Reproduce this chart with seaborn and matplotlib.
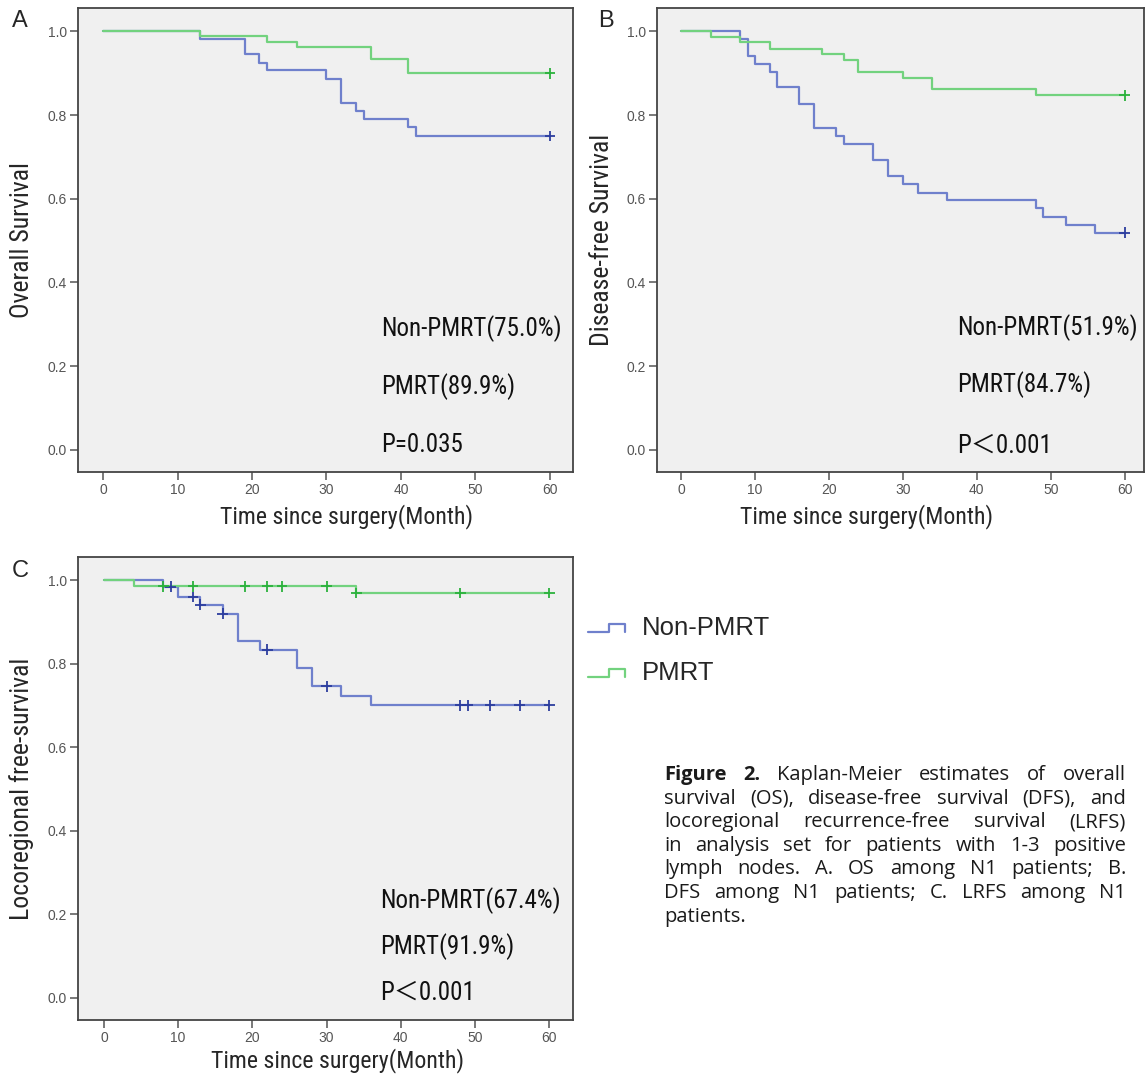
import numpy as np
import pandas as pd
import matplotlib
matplotlib.use("Agg")
import matplotlib.pyplot as plt
import seaborn as sns
from matplotlib import font_manager
from matplotlib.lines import Line2D
from matplotlib.legend_handler import HandlerBase

# Kaplan-Meier curves (event times in months, survival after each event)
groups = ["Non-PMRT", "PMRT"]

# A. Overall survival
os_non_t = [13, 19, 21, 22, 30, 32, 34, 35, 41, 42]
os_non_s = [0.982, 0.945, 0.925, 0.907, 0.887, 0.829, 0.809, 0.791, 0.772, 0.750]
os_non_cens = [60]
os_pm_t = [13, 22, 26, 36, 41]
os_pm_s = [0.988, 0.974, 0.962, 0.933, 0.900]
os_pm_cens = [60]

# B. Disease-free survival
dfs_non_t = [8, 9, 10, 12, 13, 16, 18, 21, 22, 26, 28, 30, 32, 36, 48, 49, 52, 56]
dfs_non_s = [0.982, 0.942, 0.923, 0.904, 0.866, 0.827, 0.770, 0.750, 0.730, 0.692,
             0.654, 0.635, 0.615, 0.596, 0.577, 0.557, 0.538, 0.519]
dfs_non_cens = [60]
dfs_pm_t = [4, 8, 12, 19, 22, 24, 30, 34, 48]
dfs_pm_s = [0.986, 0.974, 0.959, 0.945, 0.931, 0.903, 0.889, 0.862, 0.847]
dfs_pm_cens = [60]

# C. Locoregional recurrence-free survival
lrfs_non_t = [8, 10, 13, 16, 18, 21, 26, 28, 32, 36]
lrfs_non_s = [0.985, 0.960, 0.942, 0.920, 0.855, 0.834, 0.790, 0.746, 0.723, 0.701]
lrfs_non_cens = [9, 12, 13, 16, 22, 30, 48, 49, 52, 56, 60]
lrfs_pm_t = [4, 34]
lrfs_pm_s = [0.986, 0.970]
lrfs_pm_cens = [8, 12, 19, 22, 24, 30, 34, 48, 60]

follow_up = 60
x_ticks = [0, 10, 20, 30, 40, 50, 60]
y_ticks = [0.0, 0.2, 0.4, 0.6, 0.8, 1.0]

panel_letters = ["A", "B", "C"]
y_labels = ["Overall Survival", "Disease-free Survival", "Locoregional free-survival"]
x_label = "Time since surgery(Month)"
notes_A = ["Non-PMRT(75.0%)", "PMRT(89.9%)", "P=0.035"]
notes_B = ["Non-PMRT(51.9%)", "PMRT(84.7%)", "P\uff1c0.001"]
notes_C = ["Non-PMRT(67.4%)", "PMRT(91.9%)", "P\uff1c0.001"]

caption = [
    "Figure 2. Kaplan-Meier estimates of overall",
    "survival (OS), disease-free survival (DFS), and",
    "locoregional recurrence-free survival (LRFS)",
    "in analysis set for patients with 1-3 positive",
    "lymph nodes. A. OS among N1 patients; B.",
    "DFS among N1 patients; C. LRFS among N1",
    "patients.",
]

line_pal = {"Non-PMRT": "#6f80cc", "PMRT": "#72d27e"}
mark_pal = {"Non-PMRT": "#2c3d9e", "PMRT": "#2bb13c"}

sns.set_style("ticks")
names = {f.name for f in font_manager.fontManager.ttflist}
# SPSS output uses a condensed Arial-like face; fall back to a smaller regular one
if "Liberation Sans Narrow" in names:
    label_font, ylab_size, xlab_size, note_size = "Liberation Sans Narrow", 18.5, 17.2, 18
elif "Roboto Condensed" in names:
    label_font, ylab_size, xlab_size, note_size = "Roboto Condensed", 18.5, 17.2, 18
else:
    label_font, ylab_size, xlab_size, note_size = "Liberation Sans", 15.2, 14.5, 15
plt.rcParams["font.family"] = [label_font, "Liberation Sans", "DejaVu Sans"]

W, H = 1145, 1078
fig = plt.figure(figsize=(W / 100, H / 100), dpi=100)


def px_axes(l, t, r, b):
    return fig.add_axes([l / W, 1 - b / H, (r - l) / W, (b - t) / H])


def km_frame(t_non, s_non, t_pm, s_pm):
    rows = []
    for g, t, s in [("Non-PMRT", t_non, s_non), ("PMRT", t_pm, s_pm)]:
        tt = [0] + list(t) + [follow_up]
        ss = [1.0] + list(s) + [s[-1]]
        rows += [(g, a, b) for a, b in zip(tt, ss)]
    return pd.DataFrame(rows, columns=["group", "month", "surv"])


def cens_frame(t_non, s_non, c_non, t_pm, s_pm, c_pm):
    rows = []
    for g, t, s, c in [("Non-PMRT", t_non, s_non, c_non), ("PMRT", t_pm, s_pm, c_pm)]:
        lev = np.array([1.0] + list(s))
        idx = np.searchsorted(np.array(t), np.array(c), side="right")
        rows += [(g, a, b) for a, b in zip(c, lev[idx])]
    return pd.DataFrame(rows, columns=["group", "month", "surv"])


def draw_panel(ax, km, cens, xlim, ylabel, ylab_x, xlab_pos, notes, note_x, note_y):
    ax.set_facecolor("#f0f0f0")
    sns.lineplot(data=km, x="month", y="surv", hue="group", hue_order=groups,
                 palette=line_pal, drawstyle="steps-post", estimator=None, sort=False,
                 legend=False, linewidth=1.6, ax=ax)
    sns.scatterplot(data=cens, x="month", y="surv", hue="group", hue_order=groups,
                    palette=mark_pal, marker="+", s=60, linewidth=1.3, legend=False,
                    ax=ax, zorder=3)
    ax.set_xlim(*xlim)
    ax.set_ylim(-0.053, 1.056)
    ax.set_xticks(x_ticks)
    ax.set_yticks(y_ticks)
    ax.set_yticklabels([f"{v:.1f}" for v in y_ticks])
    ax.tick_params(direction="out", length=6, width=1.1, color="#555555",
                   labelsize=10, labelcolor="#555555", pad=2)
    for lab in ax.get_xticklabels() + ax.get_yticklabels():
        lab.set_family("Liberation Sans")
    for sp in ax.spines.values():
        sp.set_visible(True)
        sp.set_color("#444444")
        sp.set_linewidth(1.3)
    ax.set_ylabel(ylabel, fontsize=ylab_size)
    ax.yaxis.set_label_coords(ylab_x, 0.5)
    ax.set_xlabel(x_label, fontsize=xlab_size)
    ax.xaxis.set_label_coords(*xlab_pos)
    for txt, yv in zip(notes, note_y):
        ax.text(note_x, yv, txt, fontsize=note_size, va="center", ha="left",
                family=[label_font, "Noto Sans CJK SC"], color="#111111")


axA = px_axes(78, 8, 573, 472)
axB = px_axes(657, 8, 1144, 472)
axC = px_axes(78, 557, 573, 1020)

draw_panel(axA, km_frame(os_non_t, os_non_s, os_pm_t, os_pm_s),
           cens_frame(os_non_t, os_non_s, os_non_cens, os_pm_t, os_pm_s, os_pm_cens),
           (-3.36, 63.1), y_labels[0], -0.089, (0.543, -0.07),
           notes_A, 37.4, [0.289, 0.151, 0.012])
draw_panel(axB, km_frame(dfs_non_t, dfs_non_s, dfs_pm_t, dfs_pm_s),
           cens_frame(dfs_non_t, dfs_non_s, dfs_non_cens, dfs_pm_t, dfs_pm_s, dfs_pm_cens),
           (-3.24, 62.6), y_labels[1], -0.088, (0.431, -0.07),
           notes_B, 37.4, [0.292, 0.156, 0.010])
draw_panel(axC, km_frame(lrfs_non_t, lrfs_non_s, lrfs_pm_t, lrfs_pm_s),
           cens_frame(lrfs_non_t, lrfs_non_s, lrfs_non_cens, lrfs_pm_t, lrfs_pm_s, lrfs_pm_cens),
           (-3.5, 63.2), y_labels[2], -0.089, (0.525, -0.06),
           notes_C, 37.2, [0.232, 0.124, 0.012])

for letter, (x, y) in zip(panel_letters, [(12, 10), (598, 10), (12, 560)]):
    fig.text(x / W, 1 - y / H, letter, fontsize=17, va="top", ha="left",
             family="Liberation Sans")


# legend with a small step-shaped key, as in the SPSS output
class StepHandler(HandlerBase):
    def create_artists(self, legend, orig_handle, xdescent, ydescent, width, height,
                       fontsize, trans):
        xs = np.array([0.0, 0.55, 0.55, 0.95, 0.95]) * width - xdescent
        ys = np.array([0.15, 0.15, 0.6, 0.6, 0.15]) * height - ydescent
        key = Line2D(xs, ys, color=orig_handle.get_color(), lw=1.6)
        key.set_transform(trans)
        return [key]


handles = [Line2D([], [], color=line_pal[g]) for g in groups]
fig.legend(handles, groups, loc="upper left", bbox_to_anchor=(588 / W, 1 - 616 / H),
           frameon=False, borderpad=0, borderaxespad=0,
           prop={"family": "Liberation Sans", "size": 18.5},
           handlelength=1.5, handletextpad=0.6, labelspacing=0.8,
           handler_map={Line2D: StepHandler()})

# justified caption block
cap_x0, cap_x1, cap_y0, cap_dy = 664, 1126, 775, 23.6
cap_font = "Open Sans" if "Open Sans" in names else "DejaVu Sans"
renderer = fig.canvas.get_renderer()


def caption_words(size):
    out = []
    for i, line in enumerate(caption):
        objs = []
        for j, w in enumerate(line.split()):
            bold = (i == 0 and j < 2)
            objs.append(fig.text(0, 1 - (cap_y0 + i * cap_dy) / H, w, fontsize=size,
                                 va="center", ha="left", family=cap_font, color="#1a1a1a",
                                 fontweight="bold" if bold else "normal"))
        out.append(objs)
    return out


cap_size = 14.5
while True:
    lines = caption_words(cap_size)
    widths = [[t.get_window_extent(renderer).width for t in objs] for objs in lines]
    need = max(sum(w) + 5 * (len(w) - 1) for w in widths)
    if need <= cap_x1 - cap_x0 or cap_size < 10:
        break
    for objs in lines:
        for t in objs:
            t.remove()
    cap_size -= 0.2

for i, (objs, ws) in enumerate(zip(lines, widths)):
    if i < len(lines) - 1 and len(objs) > 1:
        gap = (cap_x1 - cap_x0 - sum(ws)) / (len(objs) - 1)
    else:
        gap = 5.5
    x = cap_x0
    for t, w in zip(objs, ws):
        t.set_x(x / W)
        x += w + gap

fig.savefig("out.png", dpi=100)
